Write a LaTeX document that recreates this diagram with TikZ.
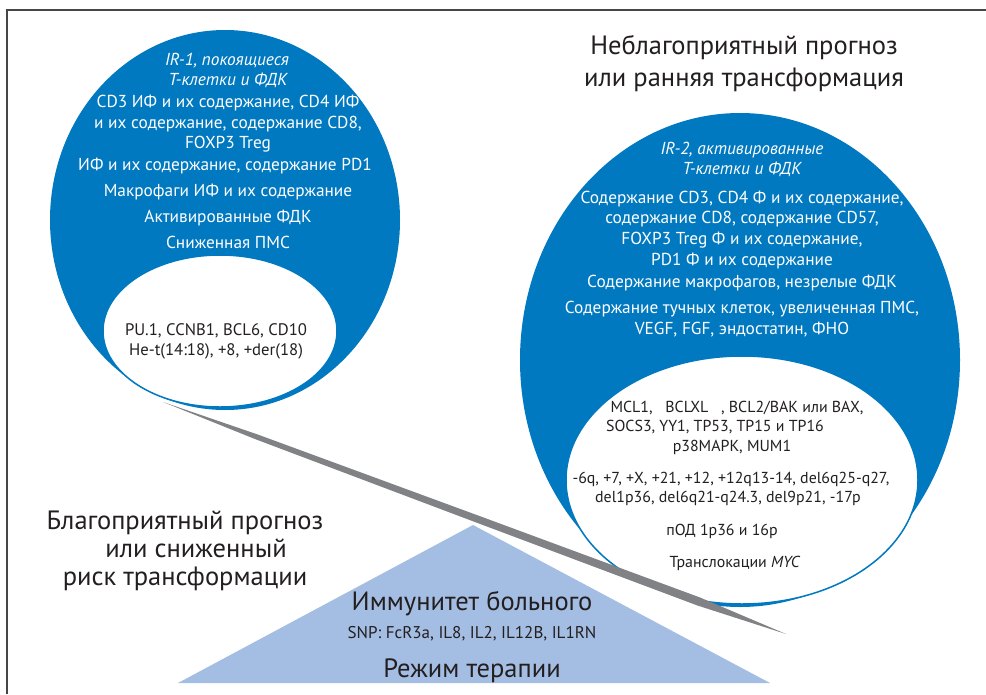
\documentclass[tikz,border=0pt]{standalone}
\usepackage{fontspec}
\setmainfont{PT Sans}
\usetikzlibrary{calc,shapes.geometric}
\definecolor{cblue}{RGB}{0,121,193}
\definecolor{ctri}{RGB}{164,190,227}
\definecolor{cgray}{RGB}{128,130,134}
\definecolor{cdark}{RGB}{35,31,32}
\definecolor{cframe}{RGB}{70,70,70}
\begin{document}
\begin{tikzpicture}[x=1pt,y=-1pt,
  lbl/.style={anchor=base, inner sep=0pt, outer sep=0pt},
  wl/.style={lbl, text=white, font=\fontsize{17.3}{20}\selectfont},
  wi/.style={lbl, text=white, font=\fontsize{17.3}{20}\selectfont\itshape},
  dl/.style={lbl, text=cdark, font=\fontsize{15.9}{18}\selectfont},
  dlc/.style={lbl, text=cdark, font=\fontsize{16.7}{19}\selectfont},
  snp/.style={lbl, text=cdark, font=\fontsize{17}{19}\selectfont},
  big/.style={lbl, text=cdark, font=\fontsize{26.5}{30}\selectfont},
  blueblob/.style={ellipse, fill=cblue, inner sep=0pt},
  core/.style={ellipse, fill=white, draw=cblue, line width=1.5pt, inner sep=0pt},
]
\useasboundingbox (0,0) rectangle (986,694);
\fill[white] (0,0) rectangle (986,694);
% frame
\draw[cframe, line width=1.6pt] (7,694) -- (7,10) -- (986,10);

% left circle
\node[blueblob, minimum width=350pt, minimum height=380pt] (lcirc) at (225,220) {};
\node[core, minimum width=234pt, minimum height=152pt] (lcore) at (220,331) {};

% right circle
\node[blueblob, minimum width=440pt, minimum height=494pt] (rcirc) at (740,360) {};
\node[core, minimum width=352pt, minimum height=248pt] (rcore) at (742,480) {};

% triangle
\coordinate (tl) at (178,683);
\coordinate (tt) at (473,525);
\coordinate (tr) at (770,683);
\fill[ctri] (tl) -- (tt) -- (tr) -- cycle;

% lever
\coordinate (la) at (163,402);
\coordinate (lb) at (786,634);
\coordinate (l1) at ($(la)!0.15!(lb)$);
\coordinate (l2) at ($(la)!0.5!(lb)$);
\coordinate (l3) at ($(la)!0.86!(lb)$);
\fill[cgray] (la) -- ($(l1)!2.6pt!90:(lb)$) -- ($(l2)!3.6pt!90:(lb)$) -- ($(l3)!4.2pt!90:(lb)$) -- (lb)
  -- ($(l3)!4.2pt!-90:(lb)$) -- ($(l2)!3.6pt!-90:(lb)$) -- ($(l1)!2.6pt!-90:(lb)$) -- cycle;

% left circle texts
\node[wi] (a1) at (227,65) {IR-1, покоящиеся};
\node[wi] (a2) at (228,85) {Т-клетки и ФДК};
\node[wl] (a3) at (228,107) {CD3 ИФ и их содержание, CD4 ИФ};
\node[wl] (a4) at (228,128) {и их содержание, содержание CD8,};
\node[wl] (a5) at (228,148) {FOXP3 Treg};
\node[wl] (a6) at (225,170) {ИФ и их содержание, содержание PD1};
\node[wl] (a7) at (228,196) {Макрофаги ИФ и их содержание};
\node[wl] (a8) at (228,222) {Активированные ФДК};
\node[wl] (a9) at (228,248) {Сниженная ПМС};
\node[dlc] (b1) at (216,335) {PU.1, CCNB1, BCL6, CD10};
\node[dlc] (b2) at (216,355) {He-t(14:18), +8, +der(18)};

% right circle texts
\node[wi] (c1) at (742,154) {IR-2, активированные};
\node[wi] (c2) at (742,174) {Т-клетки и ФДК};
\node[wl] (c3) at (742,203) {Содержание CD3, CD4 Ф и их содержание,};
\node[wl] (c4) at (742,223) {содержание CD8, содержание CD57,};
\node[wl] (c5) at (742,244) {FOXP3 Treg Ф и их содержание,};
\node[wl] (c6) at (742,265) {PD1 Ф и их содержание};
\node[wl] (c7) at (742,287) {Содержание макрофагов, незрелые ФДК};
\node[wl] (c8) at (742,313) {Содержание тучных клеток, увеличенная ПМС,};
\node[wl] (c9) at (742,334) {VEGF, FGF, эндостатин, ФНО};
\node[dl] (d1) at (737,412) {MCL1,\hspace{0.8em}BCLXL\hspace{0.8em}, BCL2/BAK или BAX,};
\node[dl] (d2) at (715,431) {SOCS3, YY1, TP53, TP15 и TP16};
\node[dl] (d3) at (732,451) {p38MAPK, MUM1};
\node[dl] (d4) at (731,483) {-6q, +7, +X, +21, +12, +12q13-14, del6q25-q27,};
\node[dl] (d5) at (728,502) {del1p36, del6q21-q24.3, del9p21, -17p};
\node[dl] (d6) at (722,535) {пОД 1р36 и 16р};
\node[dl] (d7) at (735,567) {Транслокации \textit{MYC}};

% headlines
\node[big] (h1) at (744,54) {Неблагоприятный прогноз};
\node[big] (h2) at (744,86) {или ранняя трансформация};
\node[big] (g1) at (185,529) {Благоприятный прогноз};
\node[big] (g2) at (196,557) {или сниженный};
\node[big] (g3) at (185,585) {риск трансформации};

% triangle texts
\node[big] (t1) at (472,610) {Иммунитет больного};
\node[snp] (t2) at (472,638) {SNP: FcR3a, IL8, IL2, IL12B, IL1RN};
\node[big] (t3) at (472,677) {Режим терапии};
\end{tikzpicture}
\end{document}
